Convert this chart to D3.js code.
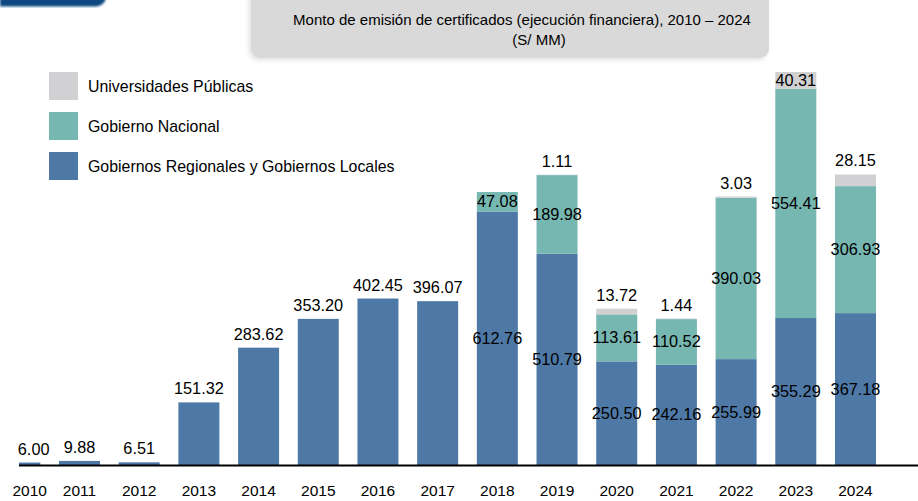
<!DOCTYPE html>
<html><head><meta charset="utf-8">
<script src="https://cdn.jsdelivr.net/npm/d3@7/dist/d3.min.js"></script>
<style>body{margin:0;background:#fff;}svg{display:block;font-family:"Liberation Sans",Arial,sans-serif;}</style>
</head><body><svg id="c" width="918" height="501"></svg>
<script>
const years = ["2010","2011","2012","2013","2014","2015","2016","2017","2018","2019","2020","2021","2022","2023","2024"];
const gobRegLoc = [6.00,9.88,6.51,151.32,283.62,353.20,402.45,396.07,612.76,510.79,250.50,242.16,255.99,355.29,367.18];
const gobNacional = [0,0,0,0,0,0,0,0,47.08,189.98,113.61,110.52,390.03,554.41,306.93];
const universidades = [0,0,0,0,0,0,0,0,0,1.11,13.72,1.44,3.03,40.31,28.15];
const seriesNames = ["Gobiernos Regionales y Gobiernos Locales","Gobierno Nacional","Universidades Públicas"];
const colors = ["#4e79a7","#76b7b2","#d1d0d2"];
const titleLines = ["Monto de emisión de certificados (ejecución financiera), 2010 – 2024","(S/ MM)"];

const svg = d3.select("#c");
const defs = svg.append("defs");
const sh = defs.append("filter").attr("id","sh").attr("x","-10%").attr("y","-20%").attr("width","120%").attr("height","160%");
sh.append("feDropShadow").attr("dx",-2).attr("dy",2).attr("stdDeviation",2).attr("flood-color","#000").attr("flood-opacity",0.12);
const bl = defs.append("filter").attr("id","bl");
bl.append("feGaussianBlur").attr("stdDeviation",0.8);
defs.append("clipPath").attr("id","clip").append("rect").attr("x",19).attr("y",0).attr("width",899).attr("height",501);

// top-left band
svg.append("path").attr("d","M0,-2 H106 Q104,6 96,6.5 H0 Z").attr("fill","#0a4a80").attr("filter","url(#bl)");

// title box
svg.append("rect").attr("x",251).attr("y",-12).attr("width",518).attr("height",70).attr("rx",9)
  .attr("fill","#d9d9d9").attr("filter","url(#sh)");
svg.append("text").attr("x",522).attr("y",25).attr("text-anchor","middle").attr("font-size",15).attr("fill","#000").text(titleLines[0]);
svg.append("text").attr("x",539).attr("y",45).attr("text-anchor","middle").attr("font-size",15).attr("fill","#000").text(titleLines[1]);

const x = d3.scaleBand().domain(years).range([-0.7,876]).paddingInner(0.313).paddingOuter(0);
const y = d3.scaleLinear().domain([0,950.01]).range([465,72]);

const rows = years.map((yr,i)=>({year:yr, s0:gobRegLoc[i], s1:gobNacional[i], s2:universidades[i]}));
const stack = d3.stack().keys(["s0","s1","s2"])(rows);

const g = svg.append("g").attr("clip-path","url(#clip)");
stack.forEach((layer,k)=>{
  g.selectAll(null).data(layer.filter(d=>d[1]-d[0]>0)).join("rect")
    .attr("x",d=>x(d.data.year)).attr("width",x.bandwidth())
    .attr("y",d=>y(d[1])).attr("height",d=>y(d[0])-y(d[1]))
    .attr("fill",colors[k]);
});

// axis line
svg.append("line").attr("x1",19).attr("x2",918).attr("y1",465.5).attr("y2",465.5).attr("stroke","#000").attr("stroke-width",2);

function cx(yr){
  const a = Math.max(x(yr),19), b = x(yr)+x.bandwidth();
  return (a+b)/2;
}
// year labels
svg.selectAll(".yl").data(years).join("text").attr("class","yl")
  .attr("x",d=>cx(d)).attr("y",496).attr("text-anchor","middle").attr("font-size",15.5).attr("fill","#000").text(d=>d);

// value labels
const labels = [];
rows.forEach((r,i)=>{
  const vals = [r.s0,r.s1,r.s2];
  const nonzero = vals.map((v,k)=>v>0?k:-1).filter(k=>k>=0);
  const topK = nonzero[nonzero.length-1];
  let base = 0;
  vals.forEach((v,k)=>{
    if(v<=0) return;
    const y0 = y(base), y1 = y(base+v);
    const h = y0-y1;
    let ty;
    if(k===topK && (nonzero.length===1 || h<14)) ty = y1-8;
    else ty = (y0+y1)/2+5.5;
    labels.push({x:cx(r.year)+(i===0?4:0), y:ty, t:d3.format(".2f")(v)});
    base += v;
  });
});
svg.selectAll(".vl").data(labels).join("text").attr("class","vl")
  .attr("x",d=>d.x).attr("y",d=>d.y).attr("text-anchor","middle").attr("font-size",16.3).attr("fill","#000").text(d=>d.t);

// legend
const leg = svg.append("g");
[2,1,0].forEach((k,j)=>{
  leg.append("rect").attr("x",49).attr("y",72+j*40).attr("width",29).attr("height",28).attr("fill",colors[k]);
  leg.append("text").attr("x",88).attr("y",91.5+j*40).attr("font-size",15.9).attr("fill","#000").text(seriesNames[k]);
});
</script></body></html>
